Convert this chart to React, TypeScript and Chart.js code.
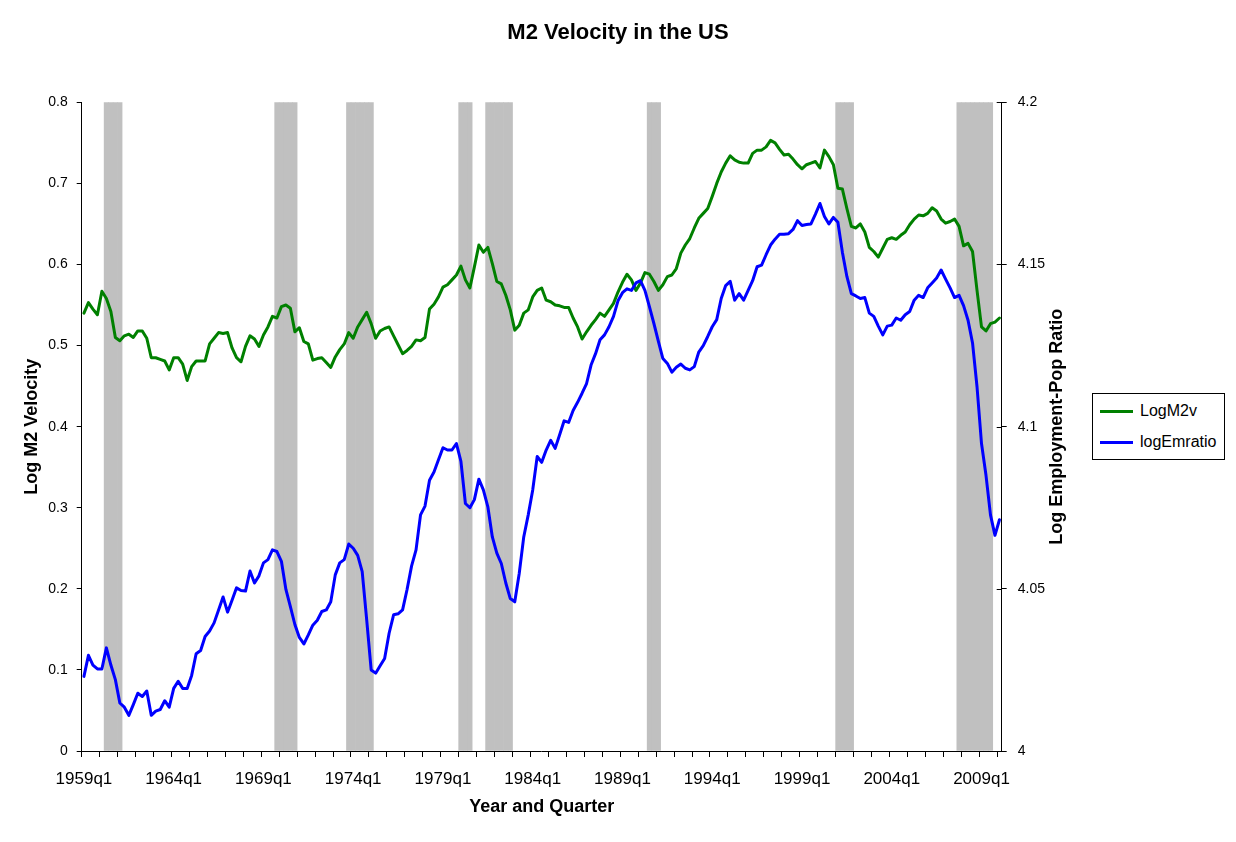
import React, { useEffect, useRef } from "react";
import { Chart, registerables } from "chart.js";

Chart.register(...registerables);

const FONT = '"Liberation Sans", Arial, Helvetica, sans-serif';

// ---------- categories ----------
const FIRST_YEAR = 1959;
const LAST_LABEL = "2010q1";
const quarters: string[] = [];
for (let y = FIRST_YEAR; ; y++) {
  let done = false;
  for (let q = 1; q <= 4; q++) {
    const lab = `${y}q${q}`;
    quarters.push(lab);
    if (lab === LAST_LABEL) { done = true; break; }
  }
  if (done) break;
}

// x-axis labels that are shown
const xTickLabels = [
  "1959q1", "1964q1", "1969q1", "1974q1", "1979q1",
  "1984q1", "1989q1", "1994q1", "1999q1", "2004q1", "2009q1",
];

// ---------- series (left axis) ----------
const logM2v = [
  0.540, 0.553, 0.545, 0.538, 0.567, 0.558, 0.542, 0.510, 0.506, 0.512,
  0.514, 0.510, 0.518, 0.518, 0.509, 0.485, 0.485, 0.483, 0.481, 0.470,
  0.485, 0.485, 0.477, 0.457, 0.474, 0.481, 0.481, 0.481, 0.502, 0.509,
  0.516, 0.515, 0.516, 0.497, 0.485, 0.480, 0.499, 0.512, 0.508, 0.499,
  0.513, 0.523, 0.536, 0.534, 0.548, 0.550, 0.546, 0.517, 0.522, 0.505,
  0.502, 0.482, 0.484, 0.485, 0.479, 0.473, 0.486, 0.495, 0.502, 0.516,
  0.509, 0.523, 0.532, 0.541, 0.527, 0.509, 0.518, 0.521, 0.523, 0.512,
  0.501, 0.490, 0.494, 0.499, 0.507, 0.506, 0.510, 0.545, 0.551, 0.560,
  0.572, 0.575, 0.581, 0.587, 0.598, 0.581, 0.571, 0.597, 0.624, 0.615,
  0.621, 0.601, 0.579, 0.576, 0.562, 0.544, 0.519, 0.525, 0.540, 0.544,
  0.560, 0.568, 0.571, 0.556, 0.554, 0.550, 0.549, 0.547, 0.547, 0.534,
  0.523, 0.508, 0.517, 0.525, 0.532, 0.540, 0.536, 0.544, 0.552, 0.566,
  0.578, 0.588, 0.581, 0.568, 0.577, 0.590, 0.588, 0.579, 0.568, 0.575,
  0.585, 0.587, 0.595, 0.614, 0.624, 0.632, 0.645, 0.657, 0.663, 0.669,
  0.684, 0.700, 0.714, 0.725, 0.734, 0.729, 0.726, 0.725, 0.725, 0.737,
  0.741, 0.741, 0.745, 0.753, 0.750, 0.742, 0.735, 0.736, 0.730, 0.723,
  0.718, 0.723, 0.725, 0.727, 0.719, 0.741, 0.733, 0.723, 0.694, 0.693,
  0.669, 0.647, 0.645, 0.650, 0.640, 0.621, 0.616, 0.609, 0.620, 0.631,
  0.633, 0.631, 0.636, 0.640, 0.649, 0.656, 0.661, 0.660, 0.663, 0.670,
  0.666, 0.656, 0.651, 0.653, 0.656, 0.647, 0.623, 0.626, 0.616, 0.568,
  0.523, 0.518, 0.527, 0.529, 0.534,
];

// ---------- series (right axis) ----------
const logEmratio = [
  4.0230, 4.0295, 4.0265, 4.0253, 4.0253, 4.0318, 4.0265, 4.0220, 4.0148, 4.0135,
  4.0110, 4.0143, 4.0178, 4.0168, 4.0185, 4.0110, 4.0123, 4.0128, 4.0155, 4.0135,
  4.0193, 4.0215, 4.0193, 4.0193, 4.0233, 4.0300, 4.0310, 4.0353, 4.0370, 4.0395,
  4.0435, 4.0475, 4.0428, 4.0465, 4.0503, 4.0495, 4.0493, 4.0555, 4.0518, 4.0540,
  4.0580, 4.0590, 4.0620, 4.0615, 4.0585, 4.0498, 4.0445, 4.0390, 4.0350, 4.0330,
  4.0358, 4.0388, 4.0403, 4.0430, 4.0435, 4.0460, 4.0543, 4.0580, 4.0590, 4.0638,
  4.0625, 4.0603, 4.0553, 4.0405, 4.0250, 4.0240, 4.0263, 4.0285, 4.0363, 4.0420,
  4.0423, 4.0435, 4.0498, 4.0570, 4.0620, 4.0728, 4.0755, 4.0835, 4.0860, 4.0898,
  4.0935, 4.0928, 4.0928, 4.0948, 4.0893, 4.0763, 4.0750, 4.0775, 4.0838, 4.0805,
  4.0753, 4.0660, 4.0610, 4.0578, 4.0518, 4.0470, 4.0460, 4.0548, 4.0660, 4.0728,
  4.0805, 4.0908, 4.0890, 4.0928, 4.0958, 4.0933, 4.0975, 4.1018, 4.1013, 4.1050,
  4.1075, 4.1103, 4.1133, 4.1190, 4.1225, 4.1268, 4.1283, 4.1308, 4.1340, 4.1388,
  4.1413, 4.1425, 4.1420, 4.1443, 4.1450, 4.1420, 4.1370, 4.1318, 4.1263, 4.1210,
  4.1195, 4.1168, 4.1183, 4.1193, 4.1180, 4.1175, 4.1185, 4.1230, 4.1250, 4.1278,
  4.1308, 4.1330, 4.1395, 4.1435, 4.1448, 4.1390, 4.1410, 4.1390, 4.1420, 4.1450,
  4.1493, 4.1498, 4.1530, 4.1560, 4.1578, 4.1593, 4.1593, 4.1595, 4.1608, 4.1635,
  4.1620, 4.1623, 4.1625, 4.1655, 4.1688, 4.1648, 4.1625, 4.1645, 4.1630, 4.1538,
  4.1463, 4.1410, 4.1403, 4.1395, 4.1398, 4.1350, 4.1340, 4.1310, 4.1283, 4.1310,
  4.1313, 4.1335, 4.1328, 4.1345, 4.1355, 4.1390, 4.1405, 4.1398, 4.1428, 4.1443,
  4.1458, 4.1483, 4.1455, 4.1428, 4.1398, 4.1405, 4.1373, 4.1328, 4.1258, 4.1123,
  4.0948, 4.0850, 4.0728, 4.0665, 4.0713,
];

// ---------- recession shading (start, end quarter) ----------
const recessions: [string, string][] = [
  ["1960q2", "1961q1"],
  ["1969q4", "1970q4"],
  ["1973q4", "1975q1"],
  ["1980q1", "1980q3"],
  ["1981q3", "1982q4"],
  ["1990q3", "1991q1"],
  ["2001q1", "2001q4"],
  ["2007q4", "2009q3"],
];
const RECESSION_HEIGHT = 0.8;

// ---------- axes ----------
const leftAxis = { min: 0, max: 0.8, step: 0.1 };
const rightAxis = { min: 4, max: 4.2, step: 0.05 };

const TITLE = "M2 Velocity in the US";
const X_TITLE = "Year and Quarter";
const LEFT_TITLE = "Log M2 Velocity";
const RIGHT_TITLE = "Log Employment-Pop Ratio";

const legendItems = [
  { label: "LogM2v", color: "#008000" },
  { label: "logEmratio", color: "#0000FF" },
];

const recessionBars = quarters.map((q) => {
  const idx = quarters.indexOf(q);
  const inside = recessions.some(
    ([s, e]) => idx >= quarters.indexOf(s) && idx <= quarters.indexOf(e)
  );
  return inside ? RECESSION_HEIGHT : null;
});

const fmt = (v: any) => String(Number(Number(v).toFixed(2)));

const rightTitlePlugin = {
  id: "rightTitle",
  afterDraw(chart: any) {
    const { ctx, chartArea } = chart;
    const y1 = chart.scales.y1;
    ctx.save();
    ctx.strokeStyle = "#000";
    ctx.lineWidth = 1;
    y1.ticks.forEach((_t: any, i: number) => {
      const py = Math.round(y1.getPixelForTick(i)) + 0.5;
      ctx.beginPath();
      ctx.moveTo(chartArea.right - 5, py);
      ctx.lineTo(chartArea.right, py);
      ctx.stroke();
    });
    ctx.translate(1057, (chartArea.top + chartArea.bottom) / 2);
    ctx.rotate(-Math.PI / 2);
    ctx.font = `bold 18px ${FONT}`;
    ctx.fillStyle = "#000";
    ctx.textAlign = "center";
    ctx.textBaseline = "middle";
    ctx.fillText(RIGHT_TITLE, 0, 0);
    ctx.restore();
  },
};

export default function App() {
  const canvasRef = useRef<HTMLCanvasElement | null>(null);

  useEffect(() => {
    if (!canvasRef.current) return;
    Chart.defaults.font.family = FONT;
    Chart.defaults.color = "#000";
    const chart = new Chart(canvasRef.current, {
      type: "bar",
      data: {
        labels: quarters,
        datasets: [
          {
            type: "line",
            label: legendItems[0].label,
            data: logM2v,
            yAxisID: "y",
            borderColor: legendItems[0].color,
            backgroundColor: legendItems[0].color,
            borderWidth: 3,
            pointRadius: 0,
            tension: 0,
            borderJoinStyle: "round",
            borderCapStyle: "round",
            order: 1,
          } as any,
          {
            type: "line",
            label: legendItems[1].label,
            data: logEmratio,
            yAxisID: "y1",
            borderColor: legendItems[1].color,
            backgroundColor: legendItems[1].color,
            borderWidth: 3,
            pointRadius: 0,
            tension: 0,
            borderJoinStyle: "round",
            borderCapStyle: "round",
            order: 0,
          } as any,
          {
            type: "bar",
            label: "Recession",
            data: recessionBars,
            yAxisID: "y",
            backgroundColor: "#C0C0C0",
            borderWidth: 0,
            barPercentage: 1,
            categoryPercentage: 1,
            order: 2,
          } as any,
        ],
      },
      options: {
        animation: false,
        responsive: true,
        maintainAspectRatio: false,
        layout: { padding: 0 },
        events: [],
        plugins: {
          legend: { display: false },
          tooltip: { enabled: false },
          title: {
            display: true,
            text: TITLE,
            color: "#000",
            font: { family: FONT, size: 22, weight: "bold" },
            padding: { top: 19.8, bottom: 56.1 },
          },
        },
        scales: {
          x: {
            type: "category",
            offset: true,
            grid: {
              offset: true,
              drawOnChartArea: false,
              drawTicks: true,
              tickLength: 6,
              tickWidth: 1,
              tickColor: (c: any) => (c.index % 4 === 0 ? "#000" : "rgba(0,0,0,0)"),
            },
            border: { display: true, color: "#000", width: 1 },
            ticks: {
              autoSkip: false,
              maxRotation: 0,
              minRotation: 0,
              padding: 12,
              color: "#000",
              font: { family: FONT, size: 17 },
              callback: (_v: any, i: number) =>
                xTickLabels.includes(quarters[i]) ? quarters[i] : "",
            },
            title: {
              display: true,
              text: X_TITLE,
              color: "#000",
              font: { family: FONT, size: 18, weight: "bold" },
              padding: { top: 0, bottom: 24.2 },
            },
            afterFit: (s: any) => {
              s.height = 91;
            },
          } as any,
          y: {
            position: "left",
            min: leftAxis.min,
            max: leftAxis.max,
            grid: { drawOnChartArea: false, tickLength: 5, tickColor: "#000" },
            border: { display: true, color: "#000", width: 1 },
            ticks: {
              stepSize: leftAxis.step,
              padding: 9,
              color: "#000",
              font: { family: FONT, size: 14 },
              callback: fmt,
            },
            title: {
              display: true,
              text: LEFT_TITLE,
              color: "#000",
              font: { family: FONT, size: 18, weight: "bold" },
              padding: { top: 21, bottom: 0 },
            },
            afterFit: (s: any) => {
              s.width = 81.7;
            },
          } as any,
          y1: {
            position: "right",
            min: rightAxis.min,
            max: rightAxis.max,
            grid: { drawOnChartArea: false, tickLength: 5, tickColor: "#000" },
            border: { display: true, color: "#000", width: 1 },
            ticks: {
              stepSize: rightAxis.step,
              padding: 11,
              color: "#000",
              font: { family: FONT, size: 14 },
              callback: fmt,
            },
            title: { display: false },
            afterFit: (s: any) => {
              s.width = 234.3;
            },
          } as any,
        },
      },
      plugins: [rightTitlePlugin],
    });
    return () => chart.destroy();
  }, []);

  return (
    <div
      style={{
        position: "fixed",
        left: 0,
        top: 0,
        width: 1236,
        height: 842,
        background: "#fff",
        overflow: "hidden",
      }}
    >
      <div style={{ position: "absolute", left: 0, top: 0, width: 1236, height: 842 }}>
        <canvas ref={canvasRef} />
      </div>
      <div
        style={{
          position: "absolute",
          left: 1092,
          top: 393,
          width: 131,
          height: 65,
          border: "1px solid #000",
          background: "#fff",
          fontFamily: FONT,
          fontSize: 16,
          color: "#000",
        }}
      >
        {legendItems.map((it, k) => (
          <div
            key={it.label}
            style={{
              position: "absolute",
              left: 7,
              top: 8 + k * 31,
              height: 18,
              display: "flex",
              alignItems: "center",
              whiteSpace: "nowrap",
            }}
          >
            <div style={{ width: 33, height: 3, background: it.color }} />
            <span style={{ marginLeft: 7, lineHeight: "18px" }}>{it.label}</span>
          </div>
        ))}
      </div>
    </div>
  );
}
